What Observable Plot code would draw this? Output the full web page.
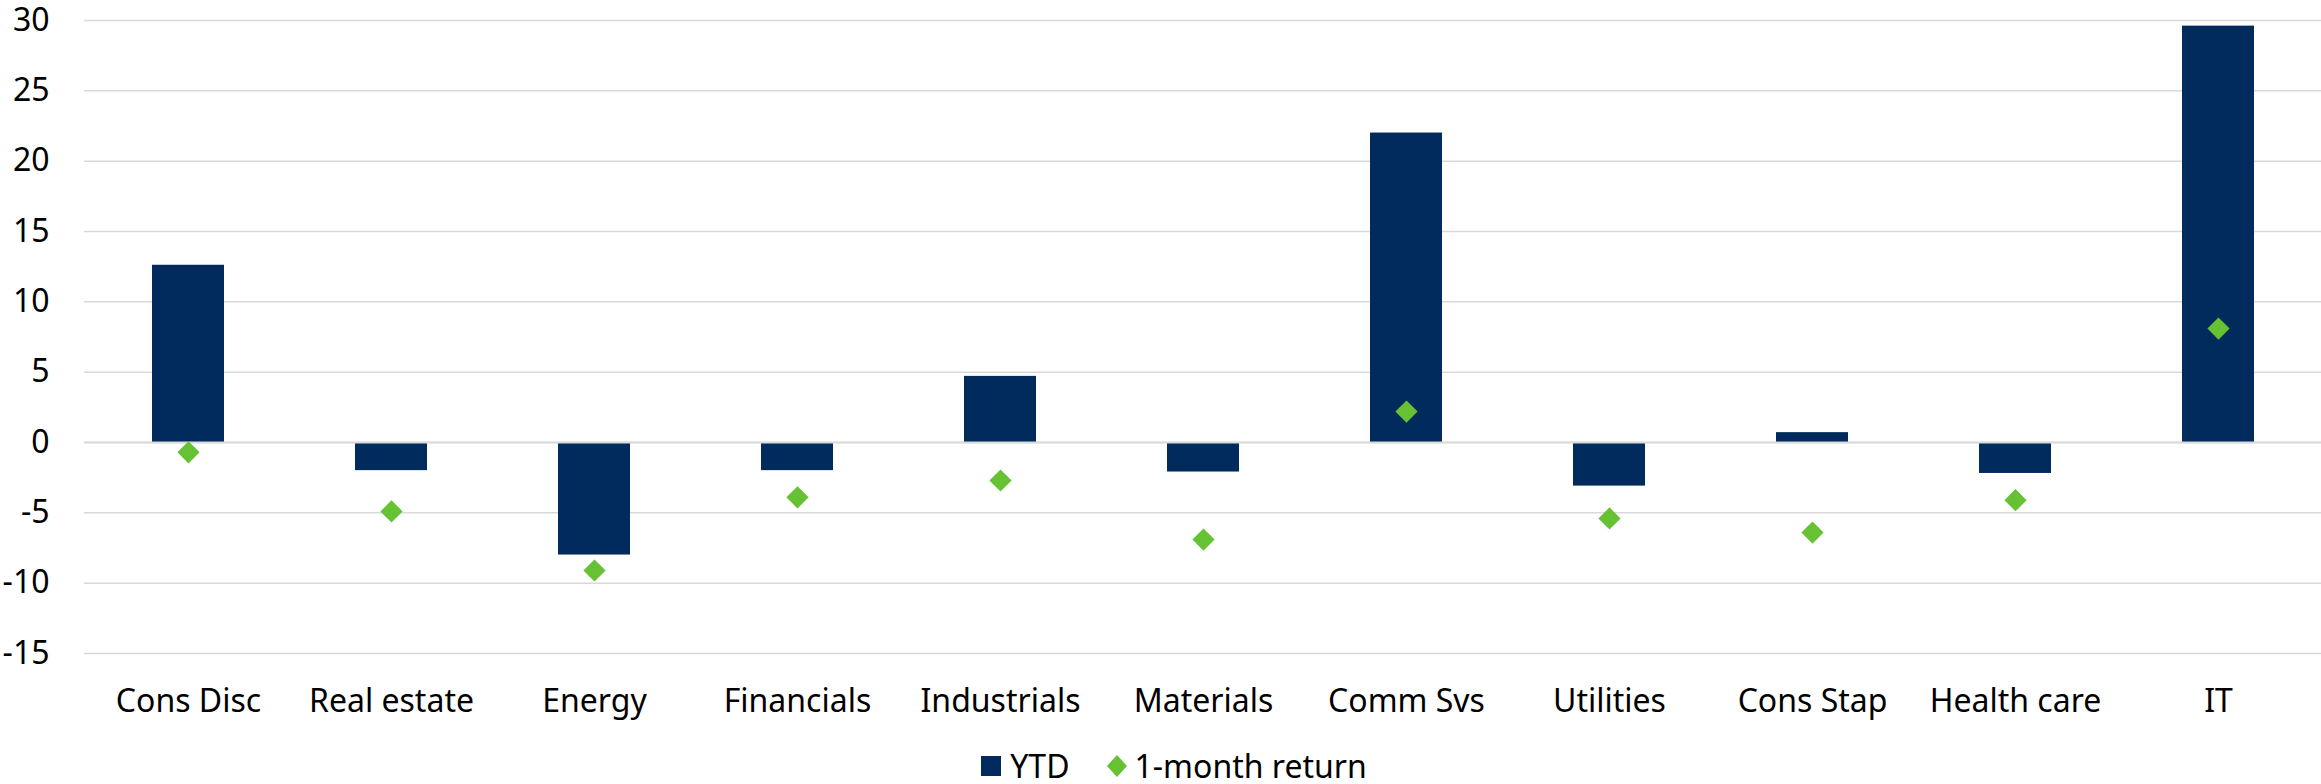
<!DOCTYPE html>
<html>
<head>
<meta charset="utf-8">
<script src="https://cdn.jsdelivr.net/npm/d3@7"></script>
<script src="https://cdn.jsdelivr.net/npm/@observablehq/plot@0.6"></script>
<style>
  html, body { margin: 0; padding: 0; background: #fff; overflow: hidden; }
  #legend {
    display: flex; justify-content: center; align-items: center;
    height: 32px; padding-left: 27px;
    font-family: "Noto Sans", sans-serif; font-size: 32px; line-height: 32px; color: #000;
  }
  #legend .item { display: flex; align-items: center; }
  #legend svg { display: block; }
</style>
</head>
<body>
<div id="chart"></div>
<div id="legend">
  <div class="item"><svg width="20" height="20"><rect width="20" height="20" fill="#002b5c"></rect></svg><span style="margin-left:9px">YTD</span></div>
  <div class="item" style="margin-left:37px"><svg width="20" height="22"><polygon points="10,0 20,11 10,22 0,11" fill="#66c133"></polygon></svg><span style="margin-left:8px">1-month return</span></div>
</div>
<script>
const categories = ["Cons Disc","Real estate","Energy","Financials","Industrials","Materials","Comm Svs","Utilities","Cons Stap","Health care","IT"];
const ytd = [12.6, -2.0, -8.0, -2.0, 4.7, -2.1, 22.0, -3.1, 0.7, -2.2, 29.6];
const oneMonth = [-0.7, -4.9, -9.1, -3.9, -2.7, -6.9, 2.2, -5.4, -6.4, -4.1, 8.1];
const yTicks = [-15, -10, -5, 0, 5, 10, 15, 20, 25, 30];

const data = categories.map((c, i) => ({cat: c, ytd: ytd[i], m1: oneMonth[i]}));

const chart = Plot.plot({
  width: 2321,
  height: 750,
  marginTop: 20,
  marginBottom: 97,
  marginLeft: 84,
  marginRight: 0,
  style: {fontFamily: "Noto Sans, sans-serif", fontSize: "32px", color: "#000", background: "#fff", overflow: "visible"},
  x: {domain: categories, paddingInner: 0.646, paddingOuter: 0.323, label: null},
  y: {domain: [-15, 30], label: null},
  marks: [
    Plot.ruleY(yTicks, {stroke: "#d9d9d9", strokeWidth: 1.5}),
    Plot.barY(data, {x: "cat", y: "ytd", fill: "#002b5c"}),
    Plot.ruleY([0], {stroke: "#d9d9d9", strokeWidth: 2}),
    Plot.dot(data, {x: "cat", y: "m1", symbol: "diamond2", r: 10, fill: "#66c133", stroke: "none"}),
    Plot.axisY({ticks: yTicks, tickSize: 0, tickPadding: 35, tickFormat: d => String(d), fill: "#000"}),
    Plot.axisX({tickSize: 0, tickPadding: 36, fill: "#000"})
  ]
});
document.getElementById("chart").appendChild(chart);
</script>
</body>
</html>
